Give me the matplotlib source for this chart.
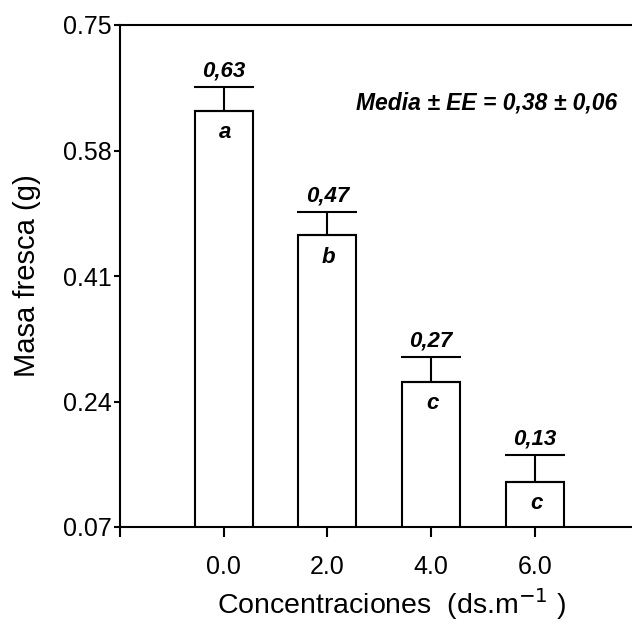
import matplotlib.pyplot as plt

conc_labels = ['0.0', '2.0', '4.0', '6.0']
masa = [0.634, 0.465, 0.267, 0.131]
ee = [0.032, 0.032, 0.033, 0.036]
value_labels = ['0,63', '0,47', '0,27', '0,13']
letters = ['a', 'b', 'c', 'c']
y_ticks = [0.07, 0.24, 0.41, 0.58, 0.75]


def main():
	plt.rcParams['font.family'] = ['Liberation Sans', 'DejaVu Sans']

	fig = plt.figure(figsize=(6.32, 6.24), dpi=100)
	ax = fig.add_axes([120 / 632, 97 / 624, 512 / 632, 502 / 624])

	pos = [1, 2, 3, 4]
	ax.bar(pos, masa, width=0.56, bottom=0, color='white', edgecolor='black', linewidth=1.5, zorder=2)
	ax.errorbar(pos, masa, yerr=[[0] * 4, ee], fmt='none', ecolor='black', elinewidth=1.5,
		capsize=21.5, capthick=1.5, zorder=3)

	for p, m, e, lab, let in zip(pos, masa, ee, value_labels, letters):
		ax.annotate(lab, (p, m + e), xytext=(0, 4), textcoords='offset points', ha='center', va='bottom',
			fontsize=16, fontweight='bold', fontstyle='italic')
		ax.annotate(let, (p, m), xytext=(1, -8), textcoords='offset points', ha='center', va='top',
			fontsize=16, fontweight='bold', fontstyle='italic')

	ax.text(0.971, 0.845, 'Media ± EE = 0,38 ± 0,06', transform=ax.transAxes, ha='right', va='center',
		fontsize=16.5, fontweight='bold', fontstyle='italic')

	ax.set_ylim(0.07, 0.75)
	ax.set_xlim(0, 512 / 103.7)
	ax.set_yticks(y_ticks)
	ax.set_yticklabels(['%.2f' % v for v in y_ticks], fontsize=18)
	ax.set_xticks([0] + pos)
	ax.set_xticklabels([''] + conc_labels, fontsize=18)
	ax.tick_params(axis='y', direction='out', length=4, width=1.5, pad=2)
	ax.tick_params(axis='x', direction='out', length=7, width=1.5, pad=13)

	ax.spines['right'].set_visible(False)
	for s in ['left', 'bottom', 'top']:
		ax.spines[s].set_linewidth(1.5)

	ax.set_ylabel('Masa fresca (g)', fontsize=21, labelpad=16)
	ax.set_xlabel('Concentraciones  (ds.m$^{-1}$ )', fontsize=20.5)
	ax.xaxis.set_label_coords(0.53, -0.118)

	fig.savefig('out.png', dpi=100)


if __name__ == '__main__':
	main()
